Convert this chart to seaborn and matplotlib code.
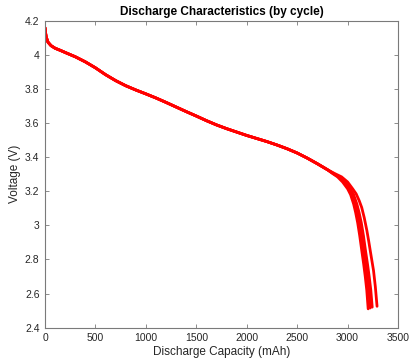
import numpy as np
import pandas as pd
import matplotlib
matplotlib.use("Agg")
import matplotlib.pyplot as plt
import seaborn as sns

# Shared early part of the discharge curve (all cycles overlap here)
capacity_common = [0, 4, 12, 30, 60, 100, 150, 220, 300, 400, 500, 600, 700,
                   800, 900, 1000, 1100, 1200, 1300, 1400, 1500, 1600, 1700,
                   1800, 1900, 2000, 2100, 2200, 2300, 2400, 2500, 2600, 2700,
                   2800]
voltage_common = [4.16, 4.135, 4.105, 4.075, 4.055, 4.04, 4.028, 4.01, 3.99,
                  3.96, 3.925, 3.885, 3.85, 3.82, 3.795, 3.772, 3.748, 3.722,
                  3.695, 3.668, 3.642, 3.615, 3.59, 3.568, 3.548, 3.528, 3.51,
                  3.492, 3.472, 3.45, 3.425, 3.395, 3.362, 3.327]

# Knee and end-of-discharge section, one list per cycle
cycle_names = ["Cycle 1", "Cycle 2", "Cycle 3", "Cycle 4"]
capacity_tail = [
    [2850, 2900, 2950, 3000, 3030, 3060, 3080, 3100, 3120, 3141, 3160, 3175, 3190, 3204],
    [2855, 2910, 2962, 3013, 3045, 3076, 3097, 3118, 3138, 3159, 3178, 3194, 3210, 3224],
    [2860, 2920, 2975, 3027, 3060, 3092, 3114, 3136, 3157, 3178, 3198, 3214, 3230, 3244],
    [2870, 2940, 3000, 3050, 3085, 3115, 3140, 3165, 3191, 3210, 3225, 3257, 3275, 3292],
]
voltage_tail = [
    [3.305, 3.285, 3.255, 3.215, 3.180, 3.125, 3.075, 3.015, 2.940, 2.850, 2.770, 2.700, 2.620, 2.510],
    [3.305, 3.285, 3.255, 3.215, 3.180, 3.125, 3.075, 3.015, 2.940, 2.850, 2.770, 2.700, 2.620, 2.515],
    [3.305, 3.285, 3.255, 3.215, 3.180, 3.125, 3.075, 3.015, 2.940, 2.850, 2.770, 2.700, 2.620, 2.520],
    [3.305, 3.285, 3.255, 3.215, 3.185, 3.145, 3.105, 3.045, 2.970, 2.905, 2.850, 2.735, 2.640, 2.525],
]

# Stray first sample of a cycle
stray_capacity = [0]
stray_voltage = [2.5]

x_ticks = [0, 500, 1000, 1500, 2000, 2500, 3000, 3500]
y_ticks = [2.4, 2.6, 2.8, 3.0, 3.2, 3.4, 3.6, 3.8, 4.0, 4.2]
y_tick_labels = ["2.4", "2.6", "2.8", "3", "3.2", "3.4", "3.6", "3.8", "4", "4.2"]

rows = []
for name, cap, volt in zip(cycle_names, capacity_tail, voltage_tail):
    for c, v in zip(capacity_common + cap, voltage_common + volt):
        rows.append({"cycle": name, "capacity": c, "voltage": v})
df = pd.DataFrame(rows)

sns.set_style("ticks")
plt.rcParams["font.family"] = ["Liberation Sans", "DejaVu Sans"]
plt.rcParams["xtick.direction"] = "in"
plt.rcParams["ytick.direction"] = "in"

fig = plt.figure(figsize=(4.1, 3.6), dpi=100)
ax = fig.add_axes([0.1098, 0.09, 0.861, 0.8517])

sns.lineplot(data=df, x="capacity", y="voltage", hue="cycle",
             palette=["#ff0000"] * len(cycle_names), estimator=None,
             sort=False, linewidth=2.0, legend=False, ax=ax)
sns.scatterplot(x=stray_capacity, y=stray_voltage, color="#ff0000",
                marker="s", s=4, linewidth=0, ax=ax)

ax.set_xlim(0, 3500)
ax.set_ylim(2.4, 4.2)
ax.set_xticks(x_ticks)
ax.set_xticklabels([str(t) for t in x_ticks])
ax.set_yticks(y_ticks)
ax.set_yticklabels(y_tick_labels)

spine_color = "#7a7a7a"
for s in ax.spines.values():
    s.set_visible(True)
    s.set_color(spine_color)
    s.set_linewidth(0.8)
ax.tick_params(axis="both", which="both", direction="in", length=3,
               width=0.6, color=spine_color, labelsize=7.5,
               labelcolor="#262626", top=True, right=True, pad=4)

ax.set_xlabel("Discharge Capacity (mAh)", fontsize=8.5, color="#262626", labelpad=2)
ax.set_ylabel("Voltage (V)", fontsize=8.5, color="#262626", labelpad=3)
ax.set_title("Discharge Characteristics (by cycle)", fontsize=8.5,
             fontweight="bold", color="#000000", pad=4)

fig.savefig("out.png", dpi=100)
